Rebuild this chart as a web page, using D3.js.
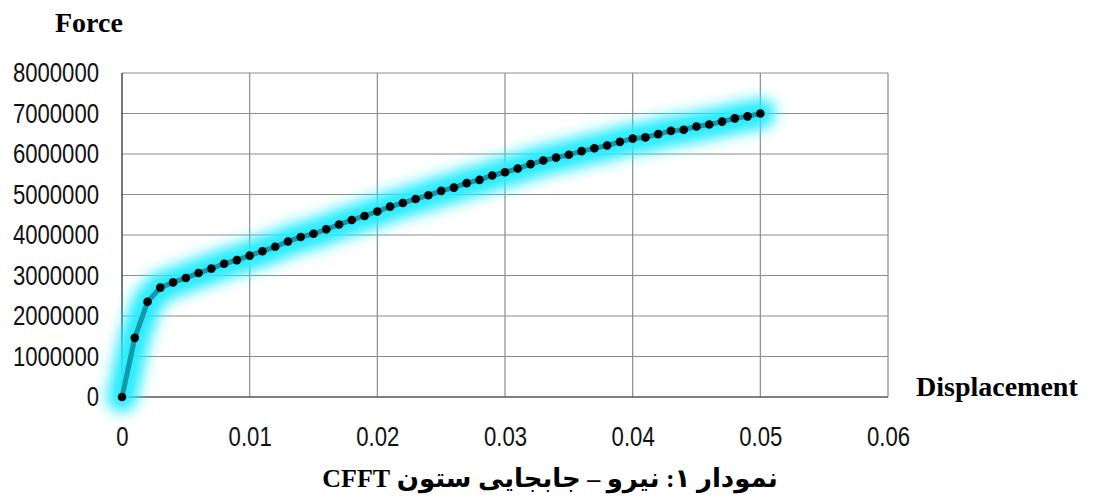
<!DOCTYPE html>
<html>
<head>
<meta charset="utf-8">
<script src="https://cdn.jsdelivr.net/npm/d3@7"></script>
<style>
  body { margin: 0; background: #fff; }
  svg { display: block; }
</style>
</head>
<body>
<svg id="chart"></svg>
<script>
// displacement steps (m) and force readings (N)
const displacement = d3.range(0, 51).map(i => +(i * 0.001).toFixed(3));
const force = [
    0, 1460000, 2350000, 2700000, 2830000, 2940000, 3060000, 3170000, 3290000, 3380000,
    3490000, 3600000, 3710000, 3840000, 3950000, 4030000, 4140000, 4260000, 4370000, 4470000,
    4580000, 4700000, 4790000, 4890000, 4980000, 5090000, 5170000, 5280000, 5360000, 5470000,
    5550000, 5640000, 5750000, 5840000, 5910000, 5980000, 6070000, 6140000, 6210000, 6300000,
    6380000, 6410000, 6490000, 6570000, 6600000, 6680000, 6730000, 6800000, 6880000, 6930000,
    7000000
];
const xTicks = [0, 0.01, 0.02, 0.03, 0.04, 0.05, 0.06];
const yTicks = [0, 1000000, 2000000, 3000000, 4000000, 5000000, 6000000, 7000000, 8000000];

const width = 1095, height = 499;
const margin = {left: 122, right: 207, top: 73, bottom: 102};

const svg = d3.select('#chart')
    .attr('width', width)
    .attr('height', height);

const x = d3.scaleLinear().domain([0, 0.06]).range([margin.left, width - margin.right]);
const y = d3.scaleLinear().domain([0, 8000000]).range([height - margin.bottom, margin.top]);

// narrow tick font: squeeze each label to a calibri-like width
function squeeze(sel) {
    sel.attr('font-family', '"Liberation Sans", Arial, sans-serif')
        .attr('font-size', 27)
        .attr('fill', '#111')
        .attr('lengthAdjust', 'spacingAndGlyphs')
        .attr('textLength', function() {
            let t = this.textContent;
            let w = 0;
            for (let c of t) w += (c === '.') ? 6.2 : 12.3;
            return w;
        });
}

// glow filter
const defs = svg.append('defs');
defs.append('filter')
    .attr('id', 'glow')
    .attr('x', '-20%').attr('y', '-30%')
    .attr('width', '140%').attr('height', '160%')
    .append('feGaussianBlur')
    .attr('stdDeviation', 7);

// gridlines
svg.append('g')
    .selectAll('line')
    .data(yTicks.slice(1))
    .enter().append('line')
    .attr('x1', x(0)).attr('x2', x(0.06))
    .attr('y1', d => y(d)).attr('y2', d => y(d))
    .attr('stroke', '#8c8c8c').attr('stroke-width', 1.2);

svg.append('g')
    .selectAll('line')
    .data(xTicks.slice(1))
    .enter().append('line')
    .attr('x1', d => x(d)).attr('x2', d => x(d))
    .attr('y1', y(0)).attr('y2', y(8000000))
    .attr('stroke', '#8c8c8c').attr('stroke-width', 1.2);

// axes lines
svg.append('line')
    .attr('x1', x(0)).attr('x2', x(0))
    .attr('y1', y(0)).attr('y2', y(8000000))
    .attr('stroke', '#555').attr('stroke-width', 1.6);
svg.append('line')
    .attr('x1', x(0)).attr('x2', x(0.06))
    .attr('y1', y(0)).attr('y2', y(0))
    .attr('stroke', '#555').attr('stroke-width', 1.6);

// tick labels via d3 axes
const yAxis = d3.axisLeft(y).tickValues(yTicks).tickFormat(d3.format('d')).tickSize(0).tickPadding(23);
const gy = svg.append('g').attr('transform', `translate(${x(0)},0)`).call(yAxis);
gy.select('.domain').remove();
gy.selectAll('text').call(squeeze);

const xAxis = d3.axisBottom(x).tickValues(xTicks).tickFormat(d => d === 0 ? '0' : d3.format('.2f')(d)).tickSize(0).tickPadding(30);
const gx = svg.append('g').attr('transform', `translate(0,${y(0)})`).call(xAxis);
gx.select('.domain').remove();
gx.selectAll('text').call(squeeze);

// series
const data = displacement.map((d, i) => [d, force[i]]);
const line = d3.line().x(d => x(d[0])).y(d => y(d[1]));

svg.append('path')
    .datum(data)
    .attr('d', line)
    .attr('fill', 'none')
    .attr('stroke', '#22ecff')
    .attr('stroke-width', 30)
    .attr('stroke-linecap', 'round')
    .attr('stroke-linejoin', 'round')
    .attr('filter', 'url(#glow)');

svg.append('path')
    .datum(data)
    .attr('d', line)
    .attr('fill', 'none')
    .attr('stroke', '#1598a8')
    .attr('stroke-width', 5)
    .attr('stroke-linejoin', 'round');

svg.append('g')
    .selectAll('circle')
    .data(data)
    .enter().append('circle')
    .attr('cx', d => x(d[0]))
    .attr('cy', d => y(d[1]))
    .attr('r', 4.3)
    .attr('fill', '#000');

// titles
svg.append('text')
    .attr('x', 55).attr('y', 32)
    .attr('font-family', '"Liberation Serif", "Times New Roman", serif')
    .attr('font-weight', 'bold').attr('font-size', 28)
    .text('Force');

svg.append('text')
    .attr('x', 916).attr('y', 396)
    .attr('font-family', '"Liberation Serif", "Times New Roman", serif')
    .attr('font-weight', 'bold').attr('font-size', 28)
    .text('Displacement');

svg.append('text')
    .attr('x', 550).attr('y', 487)
    .attr('direction', 'rtl')
    .attr('text-anchor', 'middle')
    .attr('font-family', '"Liberation Serif", "DejaVu Sans", serif')
    .attr('font-weight', 'bold').attr('font-size', 26)
    .text('نمودار ۱:  نیرو – جابجایی ستون  CFFT');
</script>
</body>
</html>
